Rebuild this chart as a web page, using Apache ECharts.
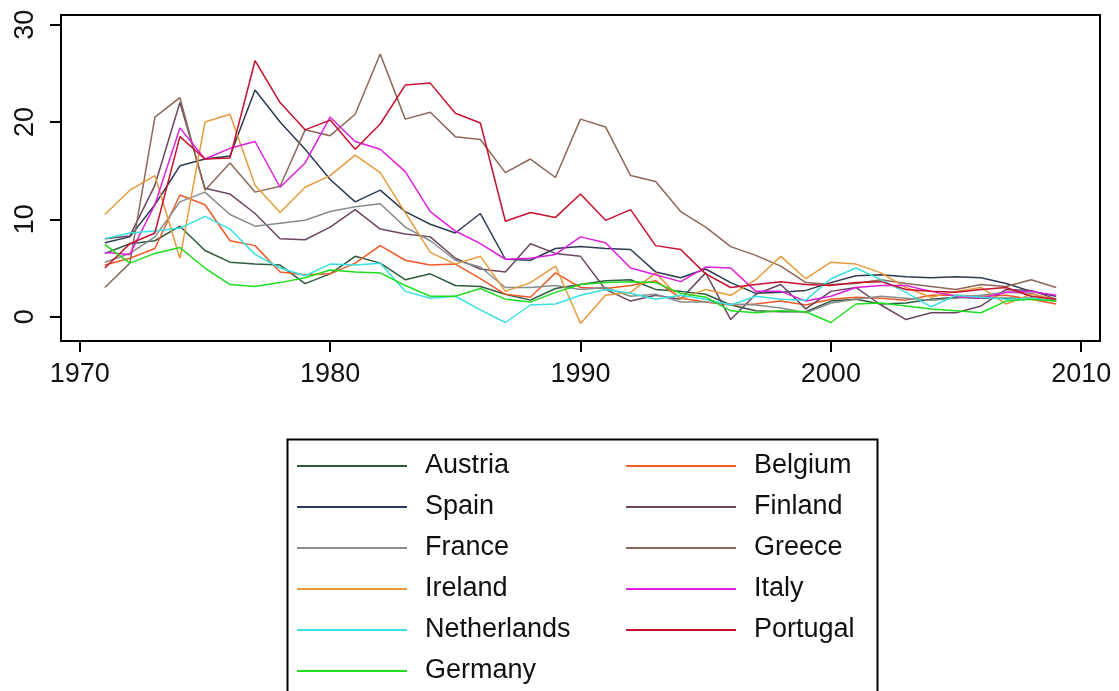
<!DOCTYPE html>
<html lang="en">
<head>
    <meta charset="UTF-8">
    <title>Inflation</title>
    <script src="https://cdn.jsdelivr.net/npm/echarts@6/dist/echarts.min.js"></script>
    <style>
        html, body { margin: 0; padding: 0; background: #fff; }
        #charts { width: 1119px; height: 691px; }
    </style>
</head>
<body>
<div id="charts"></div>
<script>
    var years = [1971, 1972, 1973, 1974, 1975, 1976, 1977, 1978, 1979, 1980,
                 1981, 1982, 1983, 1984, 1985, 1986, 1987, 1988, 1989, 1990,
                 1991, 1992, 1993, 1994, 1995, 1996, 1997, 1998, 1999, 2000,
                 2001, 2002, 2003, 2004, 2005, 2006, 2007, 2008, 2009];
    var xTicks = [1970, 1980, 1990, 2000, 2010];
    var yTicks = [0, 10, 20, 30];

    var austria = [6.5, 7.5, 7.8, 9.3, 6.8, 5.6, 5.4, 5.3, 3.4, 4.4, 6.2, 5.5, 3.8, 4.4, 3.2, 3.1, 2.3, 1.7, 2.9, 3.3,
                   3.7, 3.8, 2.8, 2.6, 2.3, 1.2, 0.6, 0.5, 0.5, 1.6, 1.8, 1.3, 1.4, 1.8, 2.0, 1.9, 1.9, 1.9, 1.6];
    var belgium = [5.3, 6.0, 7.0, 12.5, 11.5, 7.8, 7.3, 4.6, 4.3, 4.4, 5.5, 7.3, 5.8, 5.3, 5.4, 3.9, 2.3, 2.0, 4.5, 3.0,
                   2.9, 3.2, 3.7, 1.9, 1.5, 1.2, 1.3, 1.6, 1.2, 1.8, 2.0, 1.9, 1.7, 2.2, 2.2, 2.1, 2.2, 1.8, 1.3];
    var spain = [7.6, 8.2, 11.5, 15.5, 16.2, 16.5, 23.3, 20.0, 17.2, 14.1, 11.8, 13.0, 10.8, 9.5, 8.6, 10.6, 5.9, 5.8, 7.0, 7.2,
                 7.0, 6.9, 4.6, 4.0, 4.9, 3.5, 2.4, 2.5, 2.7, 3.5, 4.2, 4.3, 4.1, 4.0, 4.1, 4.0, 3.4, 2.6, 2.1];
    var finland = [8.0, 8.3, 13.5, 22.0, 13.2, 12.6, 10.6, 8.0, 7.9, 9.2, 11.0, 9.0, 8.5, 8.2, 6.0, 4.9, 4.6, 7.5, 6.5, 6.2,
                   2.8, 1.6, 2.2, 1.8, 4.5, -0.3, 2.3, 3.3, 0.8, 2.6, 3.0, 1.2, -0.3, 0.4, 0.4, 1.1, 2.8, 2.7, 1.8];
    var france = [5.6, 6.5, 8.2, 11.8, 12.8, 10.5, 9.3, 9.6, 9.9, 10.8, 11.3, 11.6, 9.2, 7.8, 5.8, 5.1, 3.0, 3.0, 3.2, 2.8,
                  3.0, 2.1, 2.3, 1.5, 1.5, 1.3, 1.2, 0.9, 0.4, 1.4, 1.8, 2.1, 1.9, 1.7, 1.9, 2.2, 2.5, 2.4, 1.6];
    var greece = [3.0, 5.5, 20.5, 22.5, 13.0, 15.8, 12.8, 13.4, 19.2, 18.6, 20.8, 27.0, 20.3, 21.0, 18.5, 18.2, 14.8, 16.2, 14.3, 20.3,
                  19.5, 14.5, 13.9, 10.8, 9.2, 7.2, 6.3, 5.2, 3.5, 3.3, 3.4, 3.8, 3.4, 3.1, 2.8, 3.3, 3.1, 3.8, 3.0];
    var ireland = [10.5, 13.0, 14.5, 6.0, 20.0, 20.8, 13.5, 10.7, 13.3, 14.5, 16.6, 14.8, 10.7, 6.6, 5.4, 6.2, 2.6, 3.5, 5.2, -0.7,
                   2.2, 2.5, 4.5, 1.8, 2.8, 2.2, 3.8, 6.2, 3.9, 5.6, 5.4, 4.5, 3.0, 2.0, 2.6, 3.0, 1.3, 2.3, 1.8];
    var italy = [6.6, 6.4, 11.5, 19.4, 16.2, 17.3, 18.0, 13.3, 15.8, 20.5, 18.0, 17.2, 14.9, 10.8, 8.8, 7.5, 5.9, 6.0, 6.4, 8.2,
                 7.6, 5.0, 4.3, 3.6, 5.1, 5.0, 2.6, 2.6, 1.6, 2.1, 3.0, 3.2, 3.2, 2.6, 2.1, 1.9, 2.5, 2.6, 2.2];
    var netherlands = [8.0, 8.6, 8.8, 9.1, 10.3, 9.0, 6.4, 5.0, 4.2, 5.4, 5.3, 5.5, 2.6, 1.9, 2.1, 0.7, -0.6, 1.2, 1.3, 2.2,
                       2.8, 2.4, 1.8, 2.2, 1.8, 1.2, 2.1, 1.8, 1.7, 3.9, 5.0, 3.8, 2.5, 1.0, 2.2, 2.0, 1.8, 1.9, 1.6];
    var portugal = [5.0, 7.5, 8.6, 18.5, 16.2, 16.3, 26.3, 22.0, 19.2, 20.2, 17.2, 19.8, 23.8, 24.0, 20.9, 19.9, 9.8, 10.7, 10.2, 12.6,
                    9.9, 11.0, 7.3, 6.9, 4.4, 3.0, 3.3, 3.6, 3.3, 3.2, 3.5, 3.6, 2.8, 2.6, 2.5, 2.8, 3.0, 2.1, 1.8];
    var germany = [7.4, 5.5, 6.5, 7.1, 5.0, 3.3, 3.1, 3.5, 4.0, 4.8, 4.6, 4.5, 3.2, 2.1, 2.1, 2.9, 1.8, 1.5, 2.5, 3.3,
                   3.5, 3.6, 3.5, 2.4, 2.0, 0.6, 0.4, 0.6, 0.5, -0.6, 1.3, 1.4, 1.1, 0.8, 0.6, 0.4, 1.6, 1.8, 1.6];

    var countries = [
        {name: 'Austria', values: austria, color: '#2e5a3c'},
        {name: 'Belgium', values: belgium, color: '#ee5a28'},
        {name: 'Spain', values: spain, color: '#2c3b52'},
        {name: 'Finland', values: finland, color: '#6b4660'},
        {name: 'France', values: france, color: '#868c8c'},
        {name: 'Greece', values: greece, color: '#8c6858'},
        {name: 'Ireland', values: ireland, color: '#e69a3c'},
        {name: 'Italy', values: italy, color: '#e01ee0'},
        {name: 'Netherlands', values: netherlands, color: '#38e0e0'},
        {name: 'Portugal', values: portugal, color: '#c8102e'},
        {name: 'Germany', values: germany, color: '#1fdd1f'}
    ];

    var series = countries.map(function (c) {
        return {
            name: c.name,
            type: 'line',
            symbol: 'none',
            color: c.color,
            lineStyle: {width: 1.5, color: c.color},
            data: years.map(function (y, i) { return [y, c.values[i]]; })
        };
    });

    var fontFam = 'Arial, "Liberation Sans", sans-serif';
    var legendText = {
        fontSize: 27,
        fontFamily: fontFam,
        color: '#111',
        lineHeight: 30,
        padding: [0, 0, 0, 13]
    };
    // legend entries are plain line swatches, two columns
    var legendBase = {
        orient: 'vertical',
        top: 451,
        padding: 0,
        icon: 'rect',
        itemWidth: 110,
        itemHeight: 2,
        itemGap: 11,
        textStyle: legendText
    };
    var axisBlack = {color: '#000', width: 2};

    var myChart = echarts.init(document.getElementById('charts'));
    var option = {
        animation: false,
        backgroundColor: '#fff',
        grid: {
            left: 61, right: 19, top: 15, bottom: 350,
            show: true,
            borderColor: '#000',
            borderWidth: 2
        },
        xAxis: {
            type: 'value',
            min: 1969.25,
            max: 2010.75,
            splitLine: {show: false},
            axisLine: {show: true, onZero: false, lineStyle: axisBlack},
            axisTick: {show: true, length: 11, customValues: xTicks, lineStyle: axisBlack},
            axisLabel: {
                customValues: xTicks,
                formatter: function (v) { return String(v); },
                margin: 20,
                fontSize: 27,
                fontFamily: fontFam,
                color: '#111'
            }
        },
        yAxis: {
            type: 'value',
            min: -2.5,
            max: 31,
            splitLine: {show: false},
            axisLine: {show: true, onZero: false, lineStyle: axisBlack},
            axisTick: {show: true, length: 11, customValues: yTicks, lineStyle: axisBlack},
            axisLabel: {
                customValues: yTicks,
                rotate: 90,
                margin: 22,
                fontSize: 27,
                fontFamily: fontFam,
                color: '#111'
            }
        },
        legend: [
            Object.assign({}, legendBase, {
                left: 297,
                data: ['Austria', 'Spain', 'France', 'Ireland', 'Netherlands', 'Germany']
            }),
            Object.assign({}, legendBase, {
                left: 626,
                data: ['Belgium', 'Finland', 'Greece', 'Italy', 'Portugal']
            })
        ],
        graphic: [
            {
                type: 'rect',
                left: 285,
                top: 437,
                shape: {width: 590, height: 280},
                style: {fill: 'none', stroke: '#000', lineWidth: 2},
                z: -1
            }
        ],
        series: series
    };
    myChart.setOption(option, true);
</script>
</body>
</html>
